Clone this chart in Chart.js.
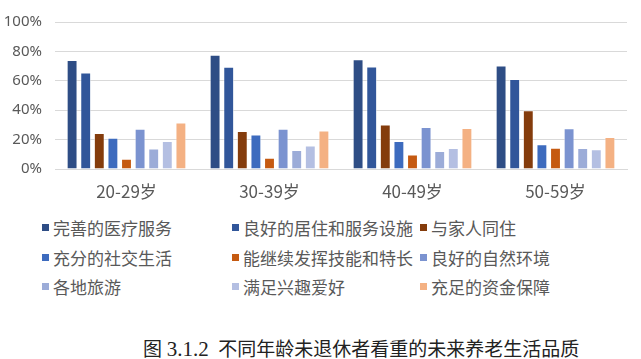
<!DOCTYPE html>
<html>
<head>
<meta charset="utf-8">
<script src="https://cdn.jsdelivr.net/npm/chart.js@4/dist/chart.umd.min.js"></script>
<style>
    body { margin: 0; background: #fff; width: 641px; height: 359px; overflow: hidden; position: relative; }
    #chartBox { position: absolute; left: 0; top: 0; width: 641px; height: 205px; }
    #legend {
        position: absolute; left: 42px; top: 213px;
        display: grid; grid-template-columns: 190px 188px 200px; grid-auto-rows: 29.5px;
        font-family: "Noto Sans CJK SC", sans-serif; font-size: 17px; color: #595959;
    }
    .item { display: flex; align-items: center; white-space: nowrap; }
    .box { width: 7px; height: 7px; margin-right: 4px; flex: none; }
    #caption {
        position: absolute; left: 143px; top: 334px; white-space: nowrap;
        font-family: "Liberation Serif", "Noto Sans CJK SC", serif; font-size: 19px; color: #222;
    }
</style>
</head>
<body>
<div id="chartBox"><canvas id="qualityChart"></canvas></div>
<div id="legend"></div>
<div id="caption">图 <span style="font-size:21px">3.1.2</span>&nbsp; 不同年龄未退休者看重的未来养老生活品质</div>
<script>
// data (percent)
const ageGroups = ['20-29岁', '30-39岁', '40-49岁', '50-59岁'];
const seriesNames = [
    '完善的医疗服务', '良好的居住和服务设施', '与家人同住',
    '充分的社交生活', '能继续发挥技能和特长', '良好的自然环境',
    '各地旅游', '满足兴趣爱好', '充足的资金保障'
];
const medical = [74.2, 77.8, 74.6, 70.4];
const housing = [65.7, 69.5, 69.7, 61.2];
const family = [24.5, 25.8, 30.3, 39.9];
const social = [21.3, 23.5, 19.0, 16.8];
const skills = [7.0, 7.7, 9.8, 14.5];
const nature = [27.3, 27.3, 28.6, 27.7];
const travel = [13.9, 13.0, 12.2, 14.3];
const hobbies = [19.0, 16.0, 14.3, 13.4];
const funds = [31.6, 26.2, 27.9, 21.7];
const yTicks = [0, 20, 40, 60, 80, 100];

const seriesValues = [medical, housing, family, social, skills, nature, travel, hobbies, funds];
const seriesColors = ['#2E4D85', '#31569A', '#843C0C', '#3D6BBE', '#C55A11', '#7B93D0', '#9CACD8', '#B4BFE2', '#F4B183'];

const datasets = seriesNames.map((name, i) => ({
    label: name,
    data: seriesValues[i],
    backgroundColor: seriesColors[i],
    borderColor: 'rgba(255,255,255,0.5)',
    borderWidth: 1,
    categoryPercentage: 0.856,
    barPercentage: 0.8
}));

const ctx = document.getElementById('qualityChart').getContext('2d');
const chart = new Chart(ctx, {
    type: 'bar',
    data: { labels: ageGroups, datasets: datasets },
    options: {
        responsive: true,
        maintainAspectRatio: false,
        animation: false,
        layout: { padding: { top: 12, right: 14, left: 0, bottom: 0 } },
        plugins: { legend: { display: false }, tooltip: { enabled: false } },
        scales: {
            x: {
                grid: { display: false, drawTicks: false },
                border: { color: '#D9D9D9', width: 1 },
                ticks: { color: '#595959', padding: 12, font: { family: 'Noto Sans CJK SC', size: 17 } },
                afterFit: scale => { scale.height = 36; }
            },
            y: {
                min: 0,
                max: 100,
                afterBuildTicks: scale => { scale.ticks = yTicks.map(v => ({ value: v })); },
                grid: { color: '#D9D9D9', lineWidth: 1, drawTicks: false },
                border: { display: false },
                ticks: {
                    color: '#595959', padding: 13,
                    font: { family: 'Noto Sans', size: 15 },
                    callback: v => v + '%'
                },
                afterFit: scale => { scale.width = 55; }
            }
        }
    }
});

// legend laid out in three columns like the original
const legendEl = document.getElementById('legend');
chart.data.datasets.forEach(ds => {
    const item = document.createElement('div');
    item.className = 'item';
    const box = document.createElement('span');
    box.className = 'box';
    box.style.background = ds.backgroundColor;
    item.appendChild(box);
    item.appendChild(document.createTextNode(ds.label));
    legendEl.appendChild(item);
});
</script>
</body>
</html>
